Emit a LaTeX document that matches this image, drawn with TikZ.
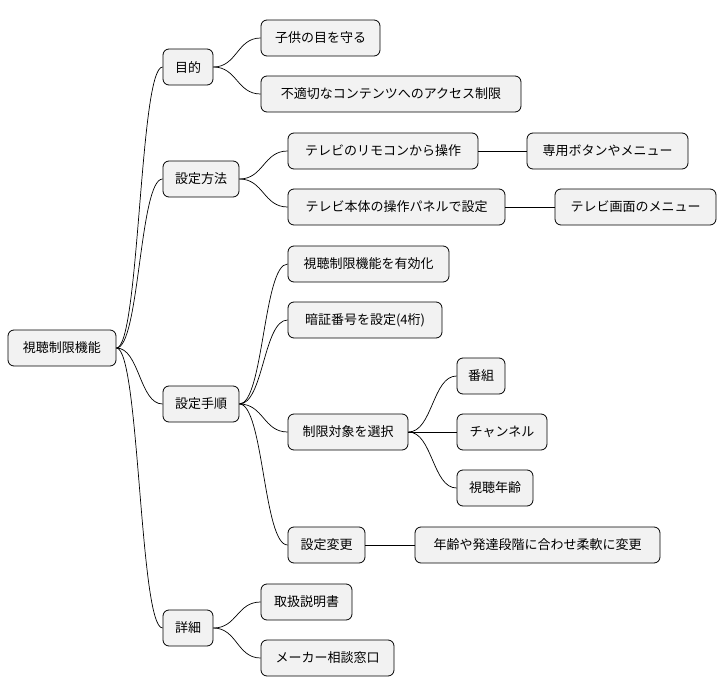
\documentclass[tikz,border=0pt]{standalone}
\usepackage{fontspec}
\usetikzlibrary{calc}
\newfontfamily\cjk{Noto Sans CJK JP}
\begin{document}
\begin{tikzpicture}[x=1pt,y=-1pt,
  mm/.style={draw=black, line width=0.8pt, fill=gray!10, rounded corners=6pt, minimum height=36pt, inner sep=0pt, font=\cjk\fontsize{13}{15}\selectfont},
  conn/.style={draw=black, line width=0.7pt}]
\useasboundingbox (0,0) rectangle (726,696);
\newcommand\mmnode[5]{\node[mm, minimum width={#3-#2}] (#1) at ({(#2+#3)/2},#4) {#5};}
\mmnode{r}{8}{116}{348}{視聴制限機能}
\mmnode{a}{163}{213}{67}{目的}
\mmnode{a1}{261}{380}{38}{子供の目を守る}
\mmnode{a2}{261}{521}{94}{不適切なコンテンツへのアクセス制限}
\mmnode{b}{163}{239}{179}{設定方法}
\mmnode{b1}{288}{478}{151}{テレビのリモコンから操作}
\mmnode{b11}{527}{688}{151}{専用ボタンやメニュー}
\mmnode{b2}{288}{505}{207}{テレビ本体の操作パネルで設定}
\mmnode{b21}{555}{716}{207}{テレビ画面のメニュー}
\mmnode{c}{163}{239}{404}{設定手順}
\mmnode{c1}{288}{449}{264}{視聴制限機能を有効化}
\mmnode{c2}{288}{442}{320}{暗証番号を設定(4桁)}
\mmnode{c3}{288}{408}{432}{制限対象を選択}
\mmnode{c31}{457}{505}{376}{番組}
\mmnode{c32}{457}{547}{432}{チャンネル}
\mmnode{c33}{457}{533}{488}{視聴年齢}
\mmnode{c4}{288}{365}{545}{設定変更}
\mmnode{c41}{415}{660}{545}{年齢や発達段階に合わせ柔軟に変更}
\mmnode{d}{163}{213}{628}{詳細}
\mmnode{d1}{261}{352}{602}{取扱説明書}
\mmnode{d2}{261}{394}{658}{メーカー相談窓口}
\newcommand\cn[2]{\draw[conn] let \p1=(#1.east), \p2=(#2.west) in (\p1) .. controls ({(\x1+\x2)/2},\y1) and ({(\x1+\x2)/2},\y2) .. (\p2);}
\cn{r}{a}\cn{r}{b}\cn{r}{c}\cn{r}{d}
\cn{a}{a1}\cn{a}{a2}
\cn{b}{b1}\cn{b}{b2}\cn{b1}{b11}\cn{b2}{b21}
\cn{c}{c1}\cn{c}{c2}\cn{c}{c3}\cn{c}{c4}
\cn{c3}{c31}\cn{c3}{c32}\cn{c3}{c33}
\cn{c4}{c41}
\cn{d}{d1}\cn{d}{d2}
\end{tikzpicture}
\end{document}
